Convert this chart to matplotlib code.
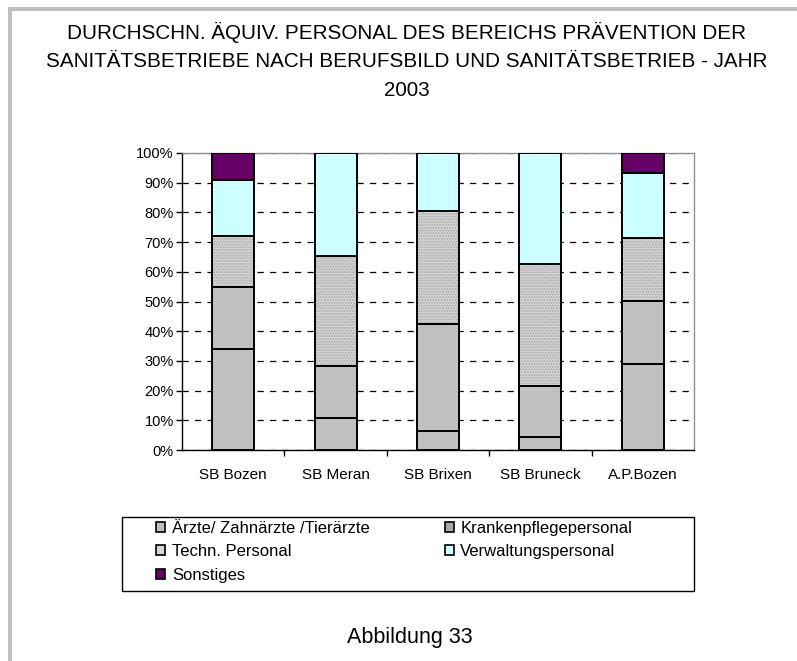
import numpy as np
import matplotlib
matplotlib.use("Agg")
import matplotlib.pyplot as plt
from matplotlib.patches import Patch, Rectangle
from matplotlib.ticker import FixedLocator, PercentFormatter

plt.rcParams['font.family'] = ['Liberation Sans', 'DejaVu Sans']

# data (share in %)
categories = ['SB Bozen', 'SB Meran', 'SB Brixen', 'SB Bruneck', 'A.P.Bozen']
aerzte = [34.1, 10.9, 6.4, 4.5, 29.1]
kranken = [20.9, 17.5, 36.1, 17.0, 21.0]
techn = [17.1, 36.8, 38.0, 41.2, 21.4]
verwaltung = [18.8, 34.8, 19.5, 37.3, 21.7]
sonstiges = [9.1, 0, 0, 0, 6.8]

series_names = ['Ärzte/ Zahnärzte /Tierärzte', 'Krankenpflegepersonal',
                'Techn. Personal', 'Verwaltungspersonal', 'Sonstiges']
series = [aerzte, kranken, techn, verwaltung, sonstiges]
colors = ['#C0C0C0', '#C0C0C0', '#D6D6D6', '#CCFFFF', '#660066']

title = ('DURCHSCHN. ÄQUIV. PERSONAL DES BEREICHS PRÄVENTION DER\n'
         'SANITÄTSBETRIEBE NACH BERUFSBILD UND SANITÄTSBETRIEB - JAHR\n'
         '2003')

W, H = 797, 661
fig = plt.figure(figsize=(W / 100, H / 100), dpi=100)

# gray frame on top and left of the page
fig.add_artist(Rectangle((8 / W, 0), 4 / W, 1 - 7 / H, transform=fig.transFigure,
                         facecolor='#C0C0C0', edgecolor='none'))
fig.add_artist(Rectangle((8 / W, 1 - 11 / H), 1, 4 / H, transform=fig.transFigure,
                         facecolor='#C0C0C0', edgecolor='none'))

fig.text(0.51, 1 - 22 / H, title, ha='center', va='top', fontsize=14.9,
         linespacing=1.62)

ax = fig.add_axes([182 / W, 1 - 450 / H, 512 / W, 297 / H])
x = np.arange(len(categories))
width = 0.41
bottom = np.zeros(len(categories))
for name, vals, col in zip(series_names, series, colors):
    vals = np.array(vals, dtype=float)
    if name == 'Techn. Personal':
        # dotted fill, outline drawn separately so the hatch stays gray
        ax.bar(x, vals, width, bottom=bottom, color=col, edgecolor='#A8A8A8',
               hatch='......', linewidth=0, zorder=2)
        ax.bar(x, vals, width, bottom=bottom, fill=False, edgecolor='black',
               linewidth=1.4, zorder=3)
    else:
        mask = vals > 0
        ax.bar(x[mask], vals[mask], width, bottom=bottom[mask], color=col,
               edgecolor='black', linewidth=1.4, zorder=3)
    bottom += vals

ax.set_xlim(-0.5, len(categories) - 0.5)
ax.set_ylim(0, 100)
ax.yaxis.set_major_locator(FixedLocator(np.arange(0, 101, 10)))
ax.yaxis.set_major_formatter(PercentFormatter(decimals=0))
ax.set_xticks(x)
ax.set_xticklabels(categories)
ax.xaxis.set_minor_locator(FixedLocator(np.arange(0.5, len(categories) - 0.5, 1)))
ax.tick_params(axis='x', which='major', length=0, pad=13, labelsize=11)
ax.tick_params(axis='x', which='minor', length=4, width=1, direction='out')
ax.tick_params(axis='y', length=4, width=1, direction='out', labelsize=10.5, pad=2)

ax.yaxis.grid(True, color='black', linestyle=(0, (5, 5)), linewidth=0.9)
ax.set_axisbelow(True)
for s in ['left', 'bottom']:
    ax.spines[s].set_color('black')
    ax.spines[s].set_linewidth(1)
for s in ['top', 'right']:
    ax.spines[s].set_color('#909090')
    ax.spines[s].set_linewidth(1)

# legend box
fig.add_artist(Rectangle((122 / W, 1 - 591 / H), 572 / W, 74 / H,
                         transform=fig.transFigure, facecolor='white',
                         edgecolor='black', linewidth=1))
legend_colors = ['#C0C0C0', '#A8A8A8', '#D6D6D6', '#CCFFFF', '#660066']
handles = [Patch(facecolor=c, edgecolor='black', linewidth=1.2, label=n)
           for n, c in zip(series_names, legend_colors)]
order = [0, 2, 4, 1, 3]
fig.legend([handles[i] for i in order], [series_names[i] for i in order],
           loc='upper left', bbox_to_anchor=(156 / W, 1 - 521 / H), ncol=2,
           frameon=False, fontsize=12, handlelength=0.55, handleheight=0.55,
           handletextpad=0.4, columnspacing=4.5, labelspacing=0.5,
           borderaxespad=0, borderpad=0)

fig.text(410 / W, 1 - 638 / H, 'Abbildung 33', ha='center', va='center', fontsize=15.5)

fig.savefig('out.png', dpi=100)
